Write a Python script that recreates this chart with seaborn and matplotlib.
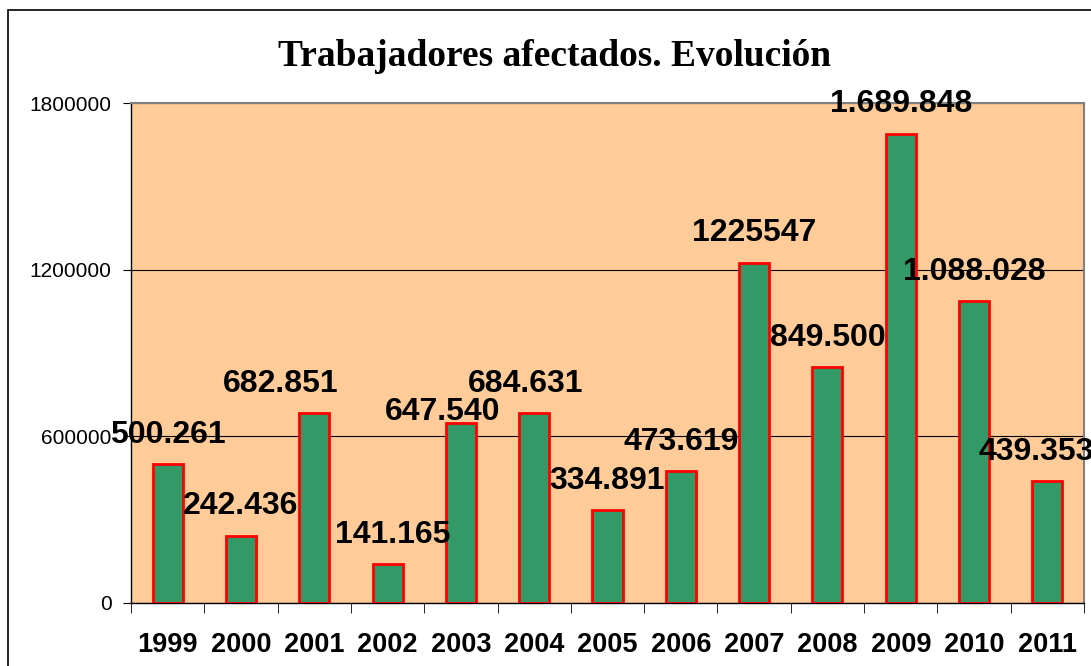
import matplotlib
matplotlib.use("Agg")
import matplotlib.pyplot as plt
import matplotlib.patches as mpatches
import seaborn as sns

years = ["1999", "2000", "2001", "2002", "2003", "2004", "2005",
         "2006", "2007", "2008", "2009", "2010", "2011"]
workers = [500261, 242436, 682851, 141165, 647540, 684631, 334891,
           473619, 1225547, 849500, 1689848, 1088028, 439353]
value_labels = ["500.261", "242.436", "682.851", "141.165", "647.540", "684.631",
                "334.891", "473.619", "1225547", "849.500", "1.689.848",
                "1.088.028", "439.353"]
yticks = [0, 600000, 1200000, 1800000]

fig = plt.figure(figsize=(10.91, 6.66), dpi=100)
ax = fig.add_axes([0.1201, 0.0946, 0.8735, 0.7507])
ax.set_facecolor("#FFCC99")

sns.barplot(x=years, y=workers, color="#339966", edgecolor="#FF0000",
            linewidth=2, width=0.41, saturation=1, ax=ax, zorder=3)

ax.set_ylim(0, 1800000)
ax.set_xlim(-0.5, len(years) - 0.5)
ax.set_yticks(yticks)
ax.set_yticklabels([str(v) for v in yticks], fontsize=15,
                   family="Liberation Sans")
ax.yaxis.grid(True, color="#000000", linewidth=0.8, zorder=1)
ax.set_axisbelow(True)

# ticks between the categories, labels on the categories
ax.set_xticks(range(len(years)))
ax.set_xticklabels(years, fontsize=19.5, fontweight="bold",
                   family="Liberation Sans")
ax.tick_params(axis="x", which="major", length=0, pad=21)
ax.set_xticks([i - 0.5 for i in range(len(years) + 1)], minor=True)
ax.tick_params(axis="x", which="minor", length=7, color="#000000")
ax.tick_params(axis="y", length=6, color="#000000", pad=8)
ax.set_xlabel("")
ax.set_ylabel("")

for side in ["top", "right"]:
    ax.spines[side].set_color("#808080")
    ax.spines[side].set_linewidth(1.5)
for side in ["left", "bottom"]:
    ax.spines[side].set_color("#000000")
    ax.spines[side].set_linewidth(1)

nudge = {2: -24, 3: 4, 4: -13, 5: -6, 12: -8}
for i, (v, lab) in enumerate(zip(workers, value_labels)):
    dy = 8 if i == 4 else 21
    ax.annotate(lab, (i, v), xytext=(nudge.get(i, 0), dy),
                textcoords="offset points", ha="center", va="center",
                fontsize=23, fontweight="bold", family="Liberation Sans",
                annotation_clip=False, zorder=5)

fig.text(555 / 1091, 1 - 56 / 666, "Trabajadores afectados. Evolución",
         ha="center", va="center", fontsize=27, fontweight="bold",
         family="Liberation Serif")

fig.add_artist(mpatches.Rectangle((8 / 1091, -0.05), 1.2, 1 - 10 / 666 + 0.05,
                                  transform=fig.transFigure, fill=False,
                                  edgecolor="#000000", linewidth=1.2))

fig.savefig("out.png", dpi=100)
